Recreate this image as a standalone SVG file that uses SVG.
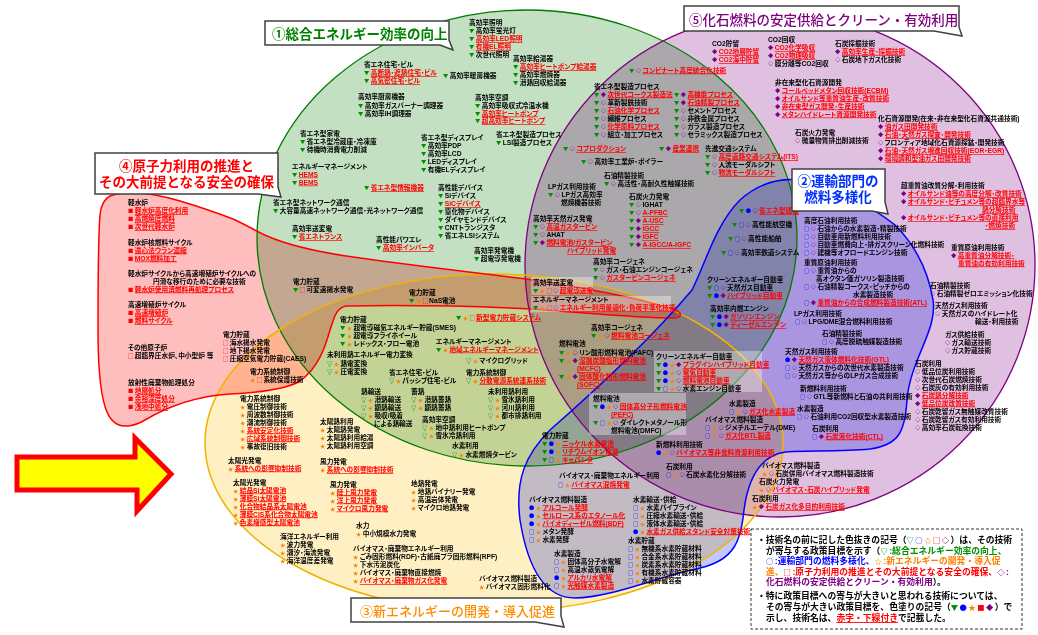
<svg xmlns="http://www.w3.org/2000/svg" width="1038" height="635" viewBox="0 0 1038 635">
<style>
text{font-family:"Liberation Sans","Noto Sans CJK JP",sans-serif;font-size:6.7px;font-weight:700;fill:#000;font-feature-settings:"palt"}
.g,.b,.o,.r,.p{font-family:"Noto Sans CJK JP",sans-serif;font-size:5.3px;letter-spacing:1.4px}
.g{fill:#009000}.b{fill:#0000ff}.o{fill:#ff8000}.r{fill:#ff0000}.p{fill:#800080}
.u{fill:#ff0000;text-decoration:underline}
.f{mix-blend-mode:multiply}
.box{fill:#fff;stroke:#404040;stroke-width:1.5}
.ttl{font-size:13.5px;font-feature-settings:normal}
.lg{font-size:8.8px;font-feature-settings:normal}
.lg .g,.lg .b,.lg .o,.lg .r,.lg .p{font-family:"Liberation Sans","Noto Sans CJK JP",sans-serif;font-size:8.8px;letter-spacing:0}
.lg .ls{font-family:"Noto Sans CJK JP",sans-serif;font-size:7.3px;letter-spacing:1.5px}
.wb{fill:#fff;fill-opacity:.35}
</style>
<rect width="1038" height="635" fill="#fff"/>
<g id="areas">
<ellipse class="f" cx="780" cy="265" rx="255" ry="252" fill="#e0c0e0"/>
<ellipse class="f" cx="527" cy="238" rx="270" ry="228" fill="#c3e0c3"/>
<ellipse class="f" cx="494" cy="443" rx="289" ry="169" fill="#fff0c3"/>
<path class="f" fill="#ffbebe" d="M110,196 C125,190 150,192 180,201 C200,207 220,214 233,219 C248,226 258,232 267,236 C290,246 320,252 346,256 C400,264 470,272 526,279 C600,290 650,302 673,309 C684,313 682,318 673,318 C640,318 600,314 533,309 C470,306 400,305 346,306 C336,308 334,318 330,330 C325,348 318,368 300,381 C285,390 250,393 230,394 C200,396 170,405 145,420 C135,426 120,430 112,420 C102,410 98,380 98,330 C98,280 98,240 100,215 C101,205 104,199 110,196 Z"/>
<path class="f" fill="#c2c7ff" d="M692,290 C705,265 715,225 740,200 C760,182 780,178 800,180 C830,185 870,205 895,225 C915,245 928,270 933,300 C938,330 910,360 907,400 C905,430 900,445 870,449 C840,452 800,450 785,452 C760,456 748,480 744,510 C741,540 735,560 700,568 C660,576 610,598 575,598 C545,598 528,570 520,520 C515,480 525,455 550,430 C590,395 650,340 692,290 Z"/>
</g>
<g id="outlines" fill="none">
<ellipse cx="780" cy="265" rx="255" ry="252" stroke="#800080" stroke-width="1.3"/>
<ellipse cx="527" cy="238" rx="270" ry="228" stroke="#007a00" stroke-width="1.3"/>
<ellipse cx="494" cy="443" rx="289" ry="169" stroke="#f0b400" stroke-width="1.5"/>
<path stroke="#ff0000" stroke-width="1.5" d="M110,196 C125,190 150,192 180,201 C200,207 220,214 233,219 C248,226 258,232 267,236 C290,246 320,252 346,256 C400,264 470,272 526,279 C600,290 650,302 673,309 C684,313 682,318 673,318 C640,318 600,314 533,309 C470,306 400,305 346,306 C336,308 334,318 330,330 C325,348 318,368 300,381 C285,390 250,393 230,394 C200,396 170,405 145,420 C135,426 120,430 112,420 C102,410 98,380 98,330 C98,280 98,240 100,215 C101,205 104,199 110,196 Z"/>
<path stroke="#0000ff" stroke-width="1.5" d="M692,290 C705,265 715,225 740,200 C760,182 780,178 800,180 C830,185 870,205 895,225 C915,245 928,270 933,300 C938,330 910,360 907,400 C905,430 900,445 870,449 C840,452 800,450 785,452 C760,456 748,480 744,510 C741,540 735,560 700,568 C660,576 610,598 575,598 C545,598 528,570 520,520 C515,480 525,455 550,430 C590,395 650,340 692,290 Z"/>
</g>
<g id="textboxes">
<rect class="wb" x="531" y="277" width="62" height="18"/>
<rect class="wb" x="531" y="296" width="140" height="16"/>
<rect class="wb" x="654" y="351" width="108" height="41"/>
<rect class="wb" x="589" y="393" width="97" height="42"/>
</g>
<g id="t-green">
<text id="n-light"><tspan x="469" y="25">高効率照明</tspan><tspan x="469" y="33"><tspan class="g">▼</tspan>高効率蛍光灯</tspan><tspan x="469" y="41"><tspan class="g">▼</tspan><tspan class="u">高効率LED照明</tspan></tspan><tspan x="469" y="49"><tspan class="g">▼</tspan><tspan class="u">有機EL照明</tspan></tspan><tspan x="469" y="56.5"><tspan class="g">▼</tspan>次世代照明</tspan></text>
<text id="n-water"><tspan x="513" y="61">高効率給湯器</tspan><tspan x="513" y="69"><tspan class="g">▼</tspan><tspan class="u">高効率ヒートポンプ給湯器</tspan></tspan><tspan x="513" y="77"><tspan class="g">▼</tspan>高効率燃焼器</tspan><tspan x="513" y="85"><tspan class="g">▼</tspan>潜熱回収給湯器</tspan></text>
<text id="n-house"><tspan x="364" y="67">省エネ住宅・ビル</tspan><tspan x="364" y="75"><tspan class="g">▼</tspan><tspan class="u">高断熱・遮熱住宅・ビル</tspan></tspan><tspan x="364" y="83"><tspan class="g">▼</tspan><tspan class="u">高気密住宅・ビル</tspan></tspan></text>
<text id="n-heat"><tspan x="443" y="78"><tspan class="g">▼</tspan>高効率暖房機器</tspan></text>
<text id="n-kitchen"><tspan x="358" y="99">高効率厨房機器</tspan><tspan x="358" y="107.5"><tspan class="g">▼</tspan>高効率ガスバーナー調理器</tspan><tspan x="358" y="115.5"><tspan class="g">▼</tspan>高効率IH調理器</tspan></text>
<text id="n-aircon"><tspan x="475" y="100">高効率空調</tspan><tspan x="475" y="108"><tspan class="g">▼</tspan>高効率吸収式冷温水機</tspan><tspan x="475" y="115.5"><tspan class="g">▼</tspan><tspan class="u">高効率ヒートポンプ</tspan></tspan><tspan x="475" y="123"><tspan class="g">▼</tspan><tspan class="u">超高効率ヒートポンプ</tspan></tspan></text>
<text id="n-appl"><tspan x="300" y="136">省エネ型家電</tspan><tspan x="300" y="144"><tspan class="g">▼</tspan>省エネ型冷蔵庫・冷凍庫</tspan><tspan x="300" y="152"><tspan class="g">▼</tspan>待機時消費電力削減</tspan></text>
<text id="n-disp"><tspan x="421" y="140">省エネ型ディスプレイ</tspan><tspan x="421" y="148"><tspan class="g">▼</tspan>高効率PDP</tspan><tspan x="421" y="156"><tspan class="g">▼</tspan>高効率LCD</tspan><tspan x="421" y="164"><tspan class="g">▼</tspan>LEDディスプレイ</tspan><tspan x="421" y="172"><tspan class="g">▼</tspan>有機ELディスプレイ</tspan></text>
<text id="n-lsi"><tspan x="496" y="136.5">省エネ型製造プロセス</tspan><tspan x="496" y="144.5"><tspan class="g">▼</tspan>LSI製造プロセス</tspan></text>
<text id="n-ems"><tspan x="292" y="168.5">エネルギーマネージメント</tspan><tspan x="292" y="176.5"><tspan class="g">▼</tspan><tspan class="u">HEMS</tspan></tspan><tspan x="292" y="184.5"><tspan class="g">▼</tspan><tspan class="u">BEMS</tspan></tspan></text>
<text id="n-it"><tspan x="364" y="190"><tspan class="g">▼</tspan><tspan class="u">省エネ型情報機器</tspan></tspan></text>
<text id="n-net"><tspan x="273" y="205">省エネ型ネットワーク通信</tspan><tspan x="273" y="213"><tspan class="g">▼</tspan>大容量高速ネットワーク通信・光ネットワーク通信</tspan></text>
<text id="n-trans"><tspan x="292" y="231">高効率送変電</tspan><tspan x="292" y="239"><tspan class="g">▼</tspan><tspan class="u">省エネトランス</tspan></tspan></text>
<text id="n-dev"><tspan x="438" y="190">高性能デバイス</tspan><tspan x="438" y="198"><tspan class="g">▼</tspan>Siデバイス</tspan><tspan x="438" y="206"><tspan class="g">▼</tspan><tspan class="u">SiCデバイス</tspan></tspan><tspan x="438" y="214"><tspan class="g">▼</tspan>窒化物デバイス</tspan><tspan x="438" y="222"><tspan class="g">▼</tspan>ダイヤモンドデバイス</tspan><tspan x="438" y="230"><tspan class="g">▼</tspan>CNTトランジスタ</tspan><tspan x="438" y="238"><tspan class="g">▼</tspan>省エネLSIシステム</tspan></text>
<text id="n-pe"><tspan x="376" y="242">高性能パワエレ</tspan><tspan x="376" y="250"><tspan class="g">▼</tspan><tspan class="u">高効率インバータ</tspan></tspan></text>
<text id="n-gen"><tspan x="474" y="253">高効率発電機</tspan><tspan x="474" y="261"><tspan class="g">▼</tspan>超電導発電機</tspan></text>
</g>
<g id="t-grey">
<text id="n-kombi"><tspan x="629" y="72.5"><tspan class="g">▼</tspan><tspan class="p">◇</tspan><tspan class="u">コンビナート高度統合化技術</tspan></tspan></text>
<text id="n-proc1"><tspan x="594" y="88.5">省エネ型製造プロセス</tspan><tspan x="594" y="96.5"><tspan class="g">▼</tspan><tspan class="p">◆</tspan><tspan class="u">次世代コークス製造法</tspan></tspan><tspan x="594" y="104.5"><tspan class="g">▼</tspan><tspan class="p">◇</tspan>革新製銑技術</tspan><tspan x="594" y="112.5"><tspan class="g">▼</tspan><tspan class="p">◇</tspan><tspan class="u">石油化学プロセス</tspan></tspan><tspan x="594" y="120.5"><tspan class="g">▼</tspan><tspan class="p">◇</tspan>繊維プロセス</tspan><tspan x="594" y="128.5"><tspan class="g">▼</tspan><tspan class="p">◇</tspan><tspan class="u">化学原料プロセス</tspan></tspan><tspan x="594" y="136.5"><tspan class="g">▼</tspan><tspan class="p">◇</tspan>組立・加工プロセス</tspan></text>
<text id="n-proc2"><tspan x="674" y="96.5"><tspan class="g">▼</tspan><tspan class="p">◆</tspan><tspan class="u">高機能プロセス</tspan></tspan><tspan x="674" y="104.5"><tspan class="g">▼</tspan><tspan class="p">◆</tspan><tspan class="u">石油精製プロセス</tspan></tspan><tspan x="674" y="112.5"><tspan class="g">▼</tspan><tspan class="p">◇</tspan>セメントプロセス</tspan><tspan x="674" y="120.5"><tspan class="g">▼</tspan><tspan class="p">◇</tspan>非鉄金属プロセス</tspan><tspan x="674" y="128.5"><tspan class="g">▼</tspan><tspan class="p">◇</tspan>ガラス製造プロセス</tspan><tspan x="674" y="136.5"><tspan class="g">▼</tspan><tspan class="p">◇</tspan>セラミックス製造プロセス</tspan></text>
<text id="n-copro"><tspan x="563" y="151"><tspan class="g">▼</tspan><tspan class="p">◇</tspan><tspan class="u">コプロダクション</tspan></tspan></text>
<text id="n-renkei"><tspan x="659" y="151"><tspan class="g">▼</tspan><tspan class="p">◆</tspan><tspan class="u">産業連携</tspan></tspan></text>
<text id="n-its"><tspan x="705" y="151">先進交通システム</tspan><tspan x="705" y="159"><tspan class="g">▼</tspan><tspan class="p">◇</tspan><tspan class="u">高度道路交通システム(ITS)</tspan></tspan><tspan x="705" y="167"><tspan class="g">▼</tspan><tspan class="p">◇</tspan>人流モーダルシフト</tspan><tspan x="705" y="175"><tspan class="g">▼</tspan><tspan class="p">◇</tspan><tspan class="u">物流モーダルシフト</tspan></tspan></text>
<text id="n-boiler"><tspan x="581" y="164"><tspan class="g">▼</tspan><tspan class="p">◇</tspan>高効率工業炉・ボイラー</tspan></text>
<text id="n-refine1"><tspan x="604" y="178">石油精製技術</tspan><tspan x="604" y="186"><tspan class="g">▼</tspan><tspan class="p">◇</tspan>高活性・高耐久性触媒技術</tspan></text>
<text id="n-lpg1"><tspan x="548" y="189">LPガス利用技術</tspan><tspan x="548" y="197"><tspan class="g">▼</tspan><tspan class="p">◇</tspan>LPガス高効率</tspan><tspan x="561" y="205">燃焼機器技術</tspan></text>
<text id="n-coalpow"><tspan x="629" y="199">石炭火力発電</tspan><tspan x="629" y="207"><tspan class="g">▼</tspan><tspan class="p">◇</tspan>IGHAT</tspan><tspan x="629" y="215"><tspan class="g">▼</tspan><tspan class="p">◇</tspan><tspan class="u">A-PFBC</tspan></tspan><tspan x="629" y="223"><tspan class="g">▼</tspan><tspan class="p">◆</tspan><tspan class="u">A-USC</tspan></tspan><tspan x="629" y="231"><tspan class="g">▼</tspan><tspan class="p">◆</tspan><tspan class="u">IGCC</tspan></tspan><tspan x="629" y="239"><tspan class="g">▼</tspan><tspan class="p">◆</tspan><tspan class="u">IGFC</tspan></tspan><tspan x="629" y="247"><tspan class="g">▼</tspan><tspan class="p">◆</tspan><tspan class="u">A-IGCC/A-IGFC</tspan></tspan></text>
<text id="n-lng"><tspan x="533" y="221">高効率天然ガス発電</tspan><tspan x="533" y="229"><tspan class="g">▼</tspan><tspan class="p">◇</tspan><tspan class="u">高温ガスタービン</tspan></tspan><tspan x="533" y="237"><tspan class="g">▼</tspan><tspan class="p">◇</tspan>AHAT</tspan><tspan x="533" y="245"><tspan class="g">▼</tspan><tspan class="p">◆</tspan><tspan class="u">燃料電池/ガスタービン</tspan></tspan><tspan x="567" y="253"><tspan class="u">ハイブリッド発電</tspan></tspan></text>
<text id="n-cogen1"><tspan x="593" y="264">高効率コージェネ</tspan><tspan x="593" y="272"><tspan class="g">▼</tspan><tspan class="p">◇</tspan>ガス・石油エンジンコージェネ</tspan><tspan x="593" y="280"><tspan class="g">▼</tspan><tspan class="p">◇</tspan><tspan class="u">ガスタービンコージェネ</tspan></tspan></text>
<text id="n-transm"><tspan x="533" y="284.5">高効率送変電</tspan><tspan x="533" y="292.5"><tspan class="g">▼</tspan><tspan class="o">★</tspan><tspan class="r">□</tspan><tspan class="p">◇</tspan><tspan class="u">超電導送電</tspan></tspan></text>
<text id="n-ems2"><tspan x="533" y="302">エネルギーマネージメント</tspan><tspan x="533" y="310"><tspan class="g">▼</tspan><tspan class="o">★</tspan><tspan class="r">□</tspan><tspan class="p">◇</tspan><tspan class="u">エネルギー利用最適化・負荷平準化技術</tspan></tspan></text>
<text id="n-nas"><tspan x="409" y="295">電力貯蔵</tspan><tspan x="409" y="303"><tspan class="g">▼</tspan><tspan class="o">★</tspan><tspan class="r">□</tspan>NaS電池</tspan></text>
<text id="n-pump"><tspan x="293" y="284">電力貯蔵</tspan><tspan x="293" y="292"><tspan class="g">▼</tspan><tspan class="r">□</tspan>可変速揚水発電</tspan></text>
<text id="n-storsys"><tspan x="456" y="320"><tspan class="g">▼</tspan><tspan class="o">★</tspan><tspan class="r">□</tspan><tspan class="u">新型電力貯蔵システム</tspan></tspan></text>
</g>
<g id="t-green-yellow">
<text id="n-smes"><tspan x="340" y="322">電力貯蔵</tspan><tspan x="340" y="330"><tspan class="g">▼</tspan><tspan class="o">★</tspan>超電導磁気エネルギー貯蔵(SMES)</tspan><tspan x="340" y="338"><tspan class="g">▼</tspan><tspan class="o">★</tspan>超電導フライホイール</tspan><tspan x="340" y="346"><tspan class="g">▼</tspan><tspan class="o">★</tspan>レドックス・フロー電池</tspan></text>
<text id="n-conv"><tspan x="327" y="357">未利用熱エネルギー電力変換</tspan><tspan x="327" y="365.5"><tspan class="g">▽</tspan><tspan class="o">★</tspan>熱電変換</tspan><tspan x="327" y="374"><tspan class="g">▽</tspan><tspan class="o">★</tspan>圧電変換</tspan></text>
<text id="n-ems3"><tspan x="436" y="343.5">エネルギーマネージメント</tspan><tspan x="436" y="351.5"><tspan class="g">▼</tspan><tspan class="o">★</tspan><tspan class="u">地域エネルギーマネージメント</tspan></tspan></text>
<text id="n-micro"><tspan x="466" y="363"><tspan class="g">▽</tspan><tspan class="o">★</tspan>マイクログリッド</tspan></text>
<text id="n-grid1"><tspan x="466" y="375">電力系統制御</tspan><tspan x="466" y="383"><tspan class="g">▽</tspan><tspan class="o">★</tspan><tspan class="u">分散電源系統連系技術</tspan></tspan></text>
<text id="n-passive"><tspan x="389" y="375">省エネ住宅・ビル</tspan><tspan x="389" y="383"><tspan class="g">▽</tspan><tspan class="o">★</tspan>パッシブ住宅・ビル</tspan></text>
<text id="n-heattr"><tspan x="361" y="394">熱輸送</tspan><tspan x="361" y="402"><tspan class="g">▽</tspan><tspan class="o">★</tspan>潜熱輸送</tspan><tspan x="361" y="410"><tspan class="g">▽</tspan><tspan class="o">★</tspan>顕熱輸送</tspan><tspan x="361" y="418"><tspan class="g">▽</tspan><tspan class="o">★</tspan>吸収/吸着</tspan><tspan x="374" y="426">による熱輸送</tspan></text>
<text id="n-heatst"><tspan x="411" y="394">蓄熱</tspan><tspan x="411" y="402"><tspan class="g">▽</tspan><tspan class="o">★</tspan>潜熱蓄熱</tspan><tspan x="411" y="410"><tspan class="g">▽</tspan><tspan class="o">★</tspan>顕熱蓄熱</tspan></text>
<text id="n-unused"><tspan x="488" y="394">未利用熱利用</tspan><tspan x="488" y="402"><tspan class="g">▽</tspan><tspan class="o">★</tspan>雪氷熱利用</tspan><tspan x="488" y="410"><tspan class="g">▽</tspan><tspan class="o">★</tspan>河川熱利用</tspan><tspan x="488" y="418"><tspan class="g">▽</tspan><tspan class="o">★</tspan>都市排熱利用</tspan></text>
<text id="n-aircon2"><tspan x="422" y="421.5">高効率空調</tspan><tspan x="422" y="429.5"><tspan class="g">▽</tspan><tspan class="o">★</tspan>地中熱利用ヒートポンプ</tspan><tspan x="422" y="437.5"><tspan class="g">▽</tspan><tspan class="o">★</tspan>雪氷冷熱利用</tspan></text>
<text id="n-h2use"><tspan x="452" y="448">水素利用</tspan><tspan x="452" y="456.5"><tspan class="g">▽</tspan><tspan class="o">★</tspan>水素燃焼タービン</tspan></text>
</g>
<g id="t-red">
<text id="n-lwr"><tspan x="128" y="205">軽水炉</tspan><tspan x="128" y="213"><tspan class="r">■</tspan><tspan class="u">軽水炉高度化利用</tspan></tspan><tspan x="128" y="221"><tspan class="r">■</tspan><tspan class="u">高燃焼度燃料</tspan></tspan><tspan x="128" y="229"><tspan class="r">■</tspan><tspan class="u">次世代軽水炉</tspan></tspan></text>
<text id="n-cycle"><tspan x="128" y="244.5">軽水炉核燃料サイクル</tspan><tspan x="128" y="252.5"><tspan class="r">■</tspan><tspan class="u">遠心法ウラン濃縮</tspan></tspan><tspan x="128" y="260.5"><tspan class="r">■</tspan><tspan class="u">MOX燃料加工</tspan></tspan></text>
<text id="n-shift"><tspan x="128" y="275.5">軽水炉サイクルから高速増殖炉サイクルへの</tspan><tspan x="153" y="283.5">円滑な移行のために必要な技術</tspan><tspan x="128" y="291.5"><tspan class="r">■</tspan><tspan class="u">軽水炉使用済燃料再処理プロセス</tspan></tspan></text>
<text id="n-fbr"><tspan x="128" y="307">高速増殖炉サイクル</tspan><tspan x="128" y="315"><tspan class="r">■</tspan><tspan class="u">高速増殖炉</tspan></tspan><tspan x="128" y="323"><tspan class="r">■</tspan><tspan class="u">燃料サイクル</tspan></tspan></text>
<text id="n-other"><tspan x="128" y="350">その他原子炉</tspan><tspan x="128" y="358"><tspan class="r">□</tspan>超臨界圧水炉、中小型炉 等</tspan></text>
<text id="n-waste"><tspan x="128" y="385">放射性廃棄物処理処分</tspan><tspan x="128" y="393"><tspan class="r">■</tspan><tspan class="u">地層処分</tspan></tspan><tspan x="128" y="401"><tspan class="r">■</tspan><tspan class="u">余裕深度処分</tspan></tspan><tspan x="128" y="409"><tspan class="r">■</tspan><tspan class="u">浅地中処分</tspan></tspan></text>
<text id="n-stor-r"><tspan x="223" y="337">電力貯蔵</tspan><tspan x="223" y="345"><tspan class="r">□</tspan>海水揚水発電</tspan><tspan x="223" y="353"><tspan class="r">□</tspan>地下揚水発電</tspan><tspan x="223" y="361"><tspan class="r">□</tspan>圧縮空気電力貯蔵(CAES)</tspan></text>
<text id="n-prot"><tspan x="250" y="374">電力系統制御</tspan><tspan x="250" y="382"><tspan class="o">★</tspan><tspan class="r">□</tspan>系統保護技術</tspan></text>
</g>
<g id="t-yellow">
<text id="n-grid2"><tspan x="240" y="400.5">電力系統制御</tspan><tspan x="240" y="408.5"><tspan class="o">★</tspan>電圧制御技術</tspan><tspan x="240" y="416.5"><tspan class="o">★</tspan>周波数制御技術</tspan><tspan x="240" y="424.5"><tspan class="o">★</tspan>潮流制御技術</tspan><tspan x="240" y="432.5"><tspan class="o">★</tspan><tspan class="u">系統安定化技術</tspan></tspan><tspan x="240" y="440.5"><tspan class="o">★</tspan><tspan class="u">広域系統制御技術</tspan></tspan><tspan x="240" y="448.5"><tspan class="o">★</tspan>事故復旧技術</tspan></text>
<text id="n-pvgrid"><tspan x="228" y="462.5">太陽光発電</tspan><tspan x="228" y="470.5"><tspan class="o">★</tspan><tspan class="u">系統への影響抑制技術</tspan></tspan></text>
<text id="n-solarth"><tspan x="320" y="424">太陽熱利用</tspan><tspan x="320" y="432"><tspan class="o">★</tspan>太陽熱発電</tspan><tspan x="320" y="440"><tspan class="o">★</tspan>太陽熱利用給湯</tspan><tspan x="320" y="448"><tspan class="o">★</tspan>太陽熱利用空調</tspan></text>
<text id="n-windgrid"><tspan x="320" y="464">風力発電</tspan><tspan x="320" y="472"><tspan class="o">★</tspan><tspan class="u">系統への影響抑制技術</tspan></tspan></text>
<text id="n-wind"><tspan x="330" y="486.5">風力発電</tspan><tspan x="330" y="494.5"><tspan class="o">★</tspan><tspan class="u">陸上風力発電</tspan></tspan><tspan x="330" y="502.5"><tspan class="o">★</tspan><tspan class="u">洋上風力発電</tspan></tspan><tspan x="330" y="510.5"><tspan class="o">★</tspan><tspan class="u">マイクロ風力発電</tspan></tspan></text>
<text id="n-pv"><tspan x="233" y="484.5">太陽光発電</tspan><tspan x="233" y="492.5"><tspan class="o">★</tspan><tspan class="u">結晶Si太陽電池</tspan></tspan><tspan x="233" y="500.5"><tspan class="o">★</tspan><tspan class="u">薄膜Si太陽電池</tspan></tspan><tspan x="233" y="508.5"><tspan class="o">★</tspan><tspan class="u">化合物結晶系太陽電池</tspan></tspan><tspan x="233" y="516.5"><tspan class="o">★</tspan><tspan class="u">薄膜CIS系化合物太陽電池</tspan></tspan><tspan x="233" y="524.5"><tspan class="o">★</tspan><tspan class="u">色素増感型太陽電池</tspan></tspan></text>
<text id="n-ocean"><tspan x="280" y="538.5">海洋エネルギー利用</tspan><tspan x="280" y="546.5"><tspan class="o">★</tspan>波力発電</tspan><tspan x="280" y="554.5"><tspan class="o">★</tspan>潮汐・海流発電</tspan><tspan x="280" y="562.5"><tspan class="o">★</tspan>海洋温度差発電</tspan></text>
<text id="n-geo"><tspan x="411" y="485.5">地熱発電</tspan><tspan x="411" y="493.5"><tspan class="o">★</tspan>地熱バイナリー発電</tspan><tspan x="411" y="501.5"><tspan class="o">★</tspan>高温岩体発電</tspan><tspan x="411" y="509.5"><tspan class="o">★</tspan>マイクロ地熱発電</tspan></text>
<text id="n-hydro"><tspan x="356" y="528">水力</tspan><tspan x="356" y="536"><tspan class="o">★</tspan>中小規模水力発電</tspan></text>
<text id="n-bio1"><tspan x="353" y="551">バイオマス・廃棄物エネルギー利用</tspan><tspan x="353" y="559"><tspan class="o">★</tspan>ごみ固形燃料(RDF)・古紙廃プラ固形燃料(RPF)</tspan><tspan x="353" y="567"><tspan class="o">★</tspan>下水汚泥炭化</tspan><tspan x="353" y="575"><tspan class="o">★</tspan>バイオマス・廃棄物直接燃焼</tspan><tspan x="353" y="583"><tspan class="o">★</tspan><tspan class="u">バイオマス・廃棄物ガス化発電</tspan></tspan></text>
<text id="n-bio2"><tspan x="479" y="580.5">バイオマス燃料製造</tspan><tspan x="479" y="589"><tspan class="o">★</tspan>バイオマス固形燃料化</tspan></text>
</g>
<g id="t-blue-low">
<text id="n-bio3"><tspan x="559" y="478">バイオマス・廃棄物エネルギー利用</tspan><tspan x="558" y="487"><tspan class="b">○</tspan><tspan class="o">★</tspan><tspan class="u">バイオマス混焼発電</tspan></tspan></text>
<text id="n-biofuel"><tspan x="529" y="501.5">バイオマス燃料製造</tspan><tspan x="529" y="509.5"><tspan class="b">●</tspan><tspan class="o">★</tspan><tspan class="u">アルコール発酵</tspan></tspan><tspan x="529" y="517.5"><tspan class="b">●</tspan><tspan class="o">★</tspan><tspan class="u">セルロース系のエタノール化</tspan></tspan><tspan x="529" y="525.5"><tspan class="b">●</tspan><tspan class="o">★</tspan><tspan class="u">バイオディーゼル燃料(BDF)</tspan></tspan><tspan x="529" y="533.5"><tspan class="b">○</tspan><tspan class="o">★</tspan>メタン発酵</tspan><tspan x="529" y="541.5"><tspan class="b">○</tspan><tspan class="o">★</tspan>水素発酵</tspan></text>
<text id="n-h2sup"><tspan x="633" y="501.5">水素輸送・供給</tspan><tspan x="633" y="509.5"><tspan class="b">○</tspan><tspan class="o">★</tspan>水素パイプライン</tspan><tspan x="633" y="517.5"><tspan class="b">○</tspan><tspan class="o">★</tspan>圧縮水素輸送・供給</tspan><tspan x="633" y="525.5"><tspan class="b">○</tspan><tspan class="o">★</tspan>液体水素輸送・供給</tspan><tspan x="633" y="533.5"><tspan class="b">●</tspan><tspan class="o">★</tspan><tspan class="u">水素ガス供給スタンド安全対策技術</tspan></tspan></text>
<text id="n-h2prod"><tspan x="554" y="556">水素製造</tspan><tspan x="554" y="564"><tspan class="b">○</tspan><tspan class="o">★</tspan>固体高分子水電解</tspan><tspan x="554" y="572"><tspan class="b">○</tspan><tspan class="o">★</tspan>高温水蒸気電解</tspan><tspan x="554" y="580"><tspan class="b">●</tspan><tspan class="o">★</tspan><tspan class="u">アルカリ水電解</tspan></tspan><tspan x="554" y="588"><tspan class="b">○</tspan><tspan class="o">★</tspan><tspan class="u">光触媒水素製造</tspan></tspan></text>
<text id="n-h2stor"><tspan x="628" y="543">水素貯蔵</tspan><tspan x="628" y="551"><tspan class="b">○</tspan><tspan class="o">★</tspan>無機系水素貯蔵材料</tspan><tspan x="628" y="559"><tspan class="b">○</tspan><tspan class="o">★</tspan>合金系水素貯蔵材料</tspan><tspan x="628" y="567"><tspan class="b">○</tspan><tspan class="o">★</tspan>炭素系水素貯蔵材料</tspan><tspan x="628" y="575"><tspan class="b">○</tspan><tspan class="o">★</tspan>有機系水素貯蔵材料</tspan><tspan x="628" y="583"><tspan class="b">○</tspan><tspan class="o">★</tspan>水素貯蔵容器</tspan></text>
</g>
<g id="t-blue">
<text id="n-kenki"><tspan x="739" y="213"><tspan class="g">▼</tspan><tspan class="b">●</tspan><tspan class="p">◇</tspan><tspan class="u">省エネ型建機</tspan></tspan></text>
<text id="n-air"><tspan x="732" y="227"><tspan class="g">▼</tspan><tspan class="b">○</tspan><tspan class="p">◇</tspan>高性能航空機</tspan></text>
<text id="n-ship"><tspan x="728" y="241"><tspan class="g">▼</tspan><tspan class="b">○</tspan><tspan class="p">◇</tspan>高性能船舶</tspan></text>
<text id="n-rail"><tspan x="721" y="254.5"><tspan class="g">▼</tspan><tspan class="b">○</tspan><tspan class="p">◇</tspan>高効率鉄道システム</tspan></text>
<text id="n-cev1"><tspan x="707" y="281.5">クリーンエネルギー自動車</tspan><tspan x="707" y="289.5"><tspan class="g">▼</tspan><tspan class="b">○</tspan><tspan class="p">◇</tspan>天然ガス自動車</tspan><tspan x="707" y="297.5"><tspan class="g">▼</tspan><tspan class="b">●</tspan><tspan class="p">◆</tspan><tspan class="u">ハイブリッド自動車</tspan></tspan></text>
<text id="n-ice"><tspan x="710" y="311">高効率内燃エンジン</tspan><tspan x="710" y="319"><tspan class="g">▼</tspan><tspan class="b">●</tspan><tspan class="p">◆</tspan><tspan class="u">ガソリンエンジン</tspan></tspan><tspan x="710" y="327"><tspan class="g">▼</tspan><tspan class="b">●</tspan><tspan class="p">◆</tspan><tspan class="u">ディーゼルエンジン</tspan></tspan></text>
<text id="n-cev2"><tspan x="656" y="359">クリーンエネルギー自動車</tspan><tspan x="656" y="367"><tspan class="g">▼</tspan><tspan class="b">●</tspan><tspan class="o">★</tspan><tspan class="p">◆</tspan><tspan class="u">プラグインハイブリッド自動車</tspan></tspan><tspan x="656" y="375"><tspan class="g">▼</tspan><tspan class="b">●</tspan><tspan class="o">★</tspan><tspan class="p">◇</tspan><tspan class="u">電気自動車</tspan></tspan><tspan x="656" y="383"><tspan class="g">▼</tspan><tspan class="b">●</tspan><tspan class="o">★</tspan><tspan class="p">◇</tspan><tspan class="u">燃料電池自動車</tspan></tspan><tspan x="656" y="391"><tspan class="g">▼</tspan><tspan class="b">○</tspan><tspan class="o">★</tspan><tspan class="p">◇</tspan>水素エンジン自動車</tspan></text>
<text id="n-fc1"><tspan x="559" y="346">燃料電池</tspan><tspan x="559" y="354.5"><tspan class="g">▼</tspan><tspan class="o">★</tspan><tspan class="p">◇</tspan>リン酸形燃料電池(PAFC)</tspan><tspan x="559" y="363"><tspan class="g">▼</tspan><tspan class="o">★</tspan><tspan class="p">◆</tspan><tspan class="u">溶融炭酸塩形燃料電池</tspan></tspan><tspan x="577" y="371"><tspan class="u">(MCFC)</tspan></tspan><tspan x="559" y="379"><tspan class="g">▼</tspan><tspan class="o">★</tspan><tspan class="p">◆</tspan><tspan class="u">固体酸化物形燃料電池</tspan></tspan><tspan x="577" y="387"><tspan class="u">(SOFC)</tspan></tspan></text>
<text id="n-cogen2"><tspan x="591" y="330">高効率コージェネ</tspan><tspan x="591" y="338"><tspan class="g">▼</tspan><tspan class="o">★</tspan><tspan class="p">◇</tspan><tspan class="u">燃料電池コージェネ</tspan></tspan></text>
<text id="n-fc2"><tspan x="593" y="400.5">燃料電池</tspan><tspan x="593" y="408.5"><tspan class="g">▼</tspan><tspan class="b">●</tspan><tspan class="o">★</tspan><tspan class="p">◇</tspan><tspan class="u">固体高分子形燃料電池</tspan></tspan><tspan x="611" y="416.5"><tspan class="u">(PEFC)</tspan></tspan><tspan x="593" y="424.5"><tspan class="g">▼</tspan><tspan class="b">○</tspan><tspan class="o">★</tspan><tspan class="p">◇</tspan>ダイレクトメタノール形</tspan><tspan x="611" y="432.5">燃料電池(DMFC)</tspan></text>
<text id="n-batt"><tspan x="542" y="438">電力貯蔵</tspan><tspan x="542" y="446"><tspan class="g">▼</tspan><tspan class="b">●</tspan><tspan class="o">★</tspan><tspan class="u">ニッケル水素電池</tspan></tspan><tspan x="542" y="454"><tspan class="g">▼</tspan><tspan class="b">●</tspan><tspan class="o">★</tspan><tspan class="u">リチウムイオン電池</tspan></tspan><tspan x="542" y="462"><tspan class="g">▼</tspan><tspan class="b">○</tspan><tspan class="o">★</tspan><tspan class="u">キャパシタ</tspan></tspan></text>
<text id="n-newfuel1"><tspan x="656" y="447">新燃料利用技術</tspan><tspan x="656" y="455"><tspan class="b">●</tspan><tspan class="o">★</tspan><tspan class="p">◇</tspan><tspan class="u">バイオマス等非食料資源利用技術</tspan></tspan></text>
<text id="n-coal1"><tspan x="666" y="469">石炭利用</tspan><tspan x="666" y="477"><tspan class="b">○</tspan><tspan class="o">★</tspan><tspan class="p">◇</tspan>石炭水素化分解技術</tspan></text>
<text id="n-h2gas"><tspan x="729" y="406">水素製造</tspan><tspan x="729" y="414"><tspan class="b">○</tspan><tspan class="o">★</tspan><tspan class="p">◇</tspan><tspan class="u">ガス化水素製造</tspan></tspan></text>
<text id="n-dme"><tspan x="705" y="422">バイオマス燃料製造</tspan><tspan x="705" y="430"><tspan class="b">○</tspan><tspan class="o">★</tspan><tspan class="p">◇</tspan>ジメチルエーテル(DME)</tspan><tspan x="705" y="438"><tspan class="b">○</tspan><tspan class="o">★</tspan><tspan class="p">◇</tspan><tspan class="u">ガス化BTL製造</tspan></tspan></text>
<text id="n-oil"><tspan x="804" y="222.5">高度石油利用技術</tspan><tspan x="804" y="230.5"><tspan class="b">○</tspan><tspan class="p">◇</tspan>石油からの水素製造・精製技術</tspan><tspan x="804" y="238.5"><tspan class="b">○</tspan><tspan class="p">◇</tspan>自動車用新燃料利用技術</tspan><tspan x="804" y="246.5"><tspan class="b">○</tspan><tspan class="p">◇</tspan>自動車燃費向上・排ガスクリーン化燃料技術</tspan><tspan x="804" y="254.5"><tspan class="b">○</tspan><tspan class="p">◇</tspan>建機等オフロードエンジン技術</tspan></text>
<text id="n-heavy1"><tspan x="804" y="265">重質原油利用技術</tspan><tspan x="804" y="273"><tspan class="b">○</tspan><tspan class="p">◇</tspan>重質油からの</tspan><tspan x="816" y="281">高オクタン価ガソリン製造技術</tspan><tspan x="804" y="289"><tspan class="b">○</tspan><tspan class="p">◇</tspan>石油精製コークス・ピッチからの</tspan><tspan x="853" y="297">水素製造技術</tspan><tspan x="804" y="305"><tspan class="b">○</tspan><tspan class="p">◆</tspan><tspan class="u">重質油からの合成燃料製造技術(ATL)</tspan></tspan></text>
<text id="n-lpg2"><tspan x="794" y="315.5">LPガス利用技術</tspan><tspan x="795" y="323.5"><tspan class="b">○</tspan><tspan class="p">◇</tspan>LPG/DME混合燃料利用技術</tspan></text>
<text id="n-refine2"><tspan x="822" y="335.5">石油精製技術</tspan><tspan x="822" y="343.5"><tspan class="b">○</tspan><tspan class="p">◇</tspan>高度脱硫触媒製造技術</tspan></text>
<text id="n-gtl"><tspan x="785" y="354">天然ガス利用技術</tspan><tspan x="785" y="362"><tspan class="b">●</tspan><tspan class="p">◆</tspan><tspan class="u">天然ガス液体燃料化技術(GTL)</tspan></tspan><tspan x="785" y="370"><tspan class="b">○</tspan><tspan class="p">◇</tspan>天然ガスからの次世代水素製造技術</tspan><tspan x="785" y="378"><tspan class="b">○</tspan><tspan class="p">◇</tspan>天然ガス等からのLPガス合成技術</tspan></text>
<text id="n-newfuel2"><tspan x="800" y="390.5">新燃料利用技術</tspan><tspan x="800" y="398.5"><tspan class="b">○</tspan><tspan class="p">◇</tspan>GTL等新燃料と石油の共利用技術</tspan></text>
<text id="n-h2oil"><tspan x="797" y="410.5">水素製造</tspan><tspan x="797" y="418.5"><tspan class="b">○</tspan><tspan class="p">◇</tspan>石油利用CO2回収型水素製造技術</tspan></text>
<text id="n-ctl"><tspan x="812" y="430.5">石炭利用</tspan><tspan x="812" y="438.5"><tspan class="b">○</tspan><tspan class="p">◆</tspan><tspan class="u">石炭液化技術(CTL)</tspan></tspan></text>
</g>
<g id="t-purple">
<text id="n-ccs1"><tspan x="712" y="46">CO2貯留</tspan><tspan x="712" y="54"><tspan class="p">◆</tspan><tspan class="u">CO2地層貯留</tspan></tspan><tspan x="712" y="62"><tspan class="p">◆</tspan><tspan class="u">CO2海中貯留</tspan></tspan></text>
<text id="n-ccs2"><tspan x="768" y="42">CO2回収</tspan><tspan x="768" y="50"><tspan class="p">◆</tspan><tspan class="u">CO2化学吸収</tspan></tspan><tspan x="768" y="58"><tspan class="p">◆</tspan><tspan class="u">CO2物理吸収</tspan></tspan><tspan x="768" y="66"><tspan class="p">◇</tspan>膜分離等CO2回収</tspan></text>
<text id="n-mine"><tspan x="835" y="46">石炭採掘技術</tspan><tspan x="835" y="54"><tspan class="p">◆</tspan><tspan class="u">高効率生産・採掘技術</tspan></tspan><tspan x="835" y="62"><tspan class="p">◇</tspan>石炭地下ガス化技術</tspan></text>
<text id="n-unconv"><tspan x="775" y="84.5">非在来型化石資源開発</tspan><tspan x="775" y="92.5"><tspan class="p">◆</tspan><tspan class="u">コールベッドメタン回収技術(ECBM)</tspan></tspan><tspan x="775" y="100.5"><tspan class="p">◆</tspan><tspan class="u">オイルサンド等重質油生産・改質技術</tspan></tspan><tspan x="775" y="108.5"><tspan class="p">◆</tspan><tspan class="u">非在来型ガス開発・生産技術</tspan></tspan><tspan x="775" y="116.5"><tspan class="p">◆</tspan><tspan class="u">メタンハイドレート資源開発技術</tspan></tspan></text>
<text id="n-coalpow2"><tspan x="795" y="134.5">石炭火力発電</tspan><tspan x="795" y="142.5"><tspan class="p">◇</tspan>微量物質排出削減技術</tspan></text>
<text id="n-explore"><tspan x="878" y="121">化石資源開発(在来・非在来型化石資源共通技術)</tspan><tspan x="878" y="129"><tspan class="p">◆</tspan><tspan class="u">油ガス田開発技術</tspan></tspan><tspan x="878" y="137"><tspan class="p">◆</tspan><tspan class="u">石油・天然ガス探査・開発技術</tspan></tspan><tspan x="878" y="145"><tspan class="p">◇</tspan>フロンティア地域化石資源探鉱・開発技術</tspan><tspan x="878" y="153"><tspan class="p">◆</tspan><tspan class="u">石油・天然ガス増進回収技術(EOR・EGR)</tspan></tspan><tspan x="878" y="161"><tspan class="p">◆</tspan><tspan class="u">環境調和型油ガス田開発技術</tspan></tspan></text>
<text id="n-bitumen"><tspan x="901" y="188">超重質油改質分解・利用技術</tspan><tspan x="901" y="196"><tspan class="p">◆</tspan><tspan class="u">オイルサンド油等の高度分解・改質技術</tspan></tspan><tspan x="901" y="204"><tspan class="p">◆</tspan><tspan class="u">オイルサンド・ビチュメン等の超臨界水等</tspan></tspan><tspan x="982" y="212"><tspan class="u">熱分解技術</tspan></tspan><tspan x="901" y="220"><tspan class="p">◆</tspan><tspan class="u">オイルサンド・ビチュメン等の直接利用</tspan></tspan><tspan x="985" y="228"><tspan class="u">・燃焼技術</tspan></tspan></text>
<text id="n-heavy2"><tspan x="951" y="249.5">重質原油利用技術</tspan><tspan x="951" y="257.5"><tspan class="p">◆</tspan><tspan class="u">高重質油分解技術・</tspan></tspan><tspan x="958" y="265.5"><tspan class="u">重質油の有効利用技術</tspan></tspan></text>
<text id="n-refine3"><tspan x="930" y="288">石油精製技術</tspan><tspan x="930" y="296"><tspan class="p">◇</tspan>石油精製ゼロエミッション化技術</tspan></text>
<text id="n-ngh"><tspan x="935" y="308">天然ガス利用技術</tspan><tspan x="935" y="316"><tspan class="p">◇</tspan>天然ガスのハイドレート化</tspan><tspan x="975" y="324">輸送・利用技術</tspan></text>
<text id="n-gassup"><tspan x="945" y="337">ガス供給技術</tspan><tspan x="945" y="345"><tspan class="p">◇</tspan>ガス輸送技術</tspan><tspan x="945" y="353"><tspan class="p">◇</tspan>ガス貯蔵技術</tspan></text>
<text id="n-coal2"><tspan x="915" y="365.5">石炭利用</tspan><tspan x="915" y="373.5"><tspan class="p">◇</tspan>低品位炭利用技術</tspan><tspan x="915" y="381.5"><tspan class="p">◇</tspan>次世代石炭燃焼技術</tspan><tspan x="915" y="389.5"><tspan class="p">◇</tspan>石炭灰の有効利用技術</tspan><tspan x="915" y="397.5"><tspan class="p">◆</tspan><tspan class="u">石炭熱分解技術</tspan></tspan><tspan x="915" y="405.5"><tspan class="p">◆</tspan><tspan class="u">低品位炭改質技術</tspan></tspan><tspan x="915" y="413.5"><tspan class="p">◇</tspan>石炭乾留ガス無触媒改質技術</tspan><tspan x="915" y="421.5"><tspan class="p">◇</tspan>石炭乾留ガス有効利用技術</tspan><tspan x="915" y="429.5"><tspan class="p">◇</tspan>高効率石炭転換技術</tspan></text>
<text id="n-biocoal1"><tspan x="762" y="467.5">バイオマス燃料製造</tspan><tspan x="762" y="475.5"><tspan class="o">★</tspan><tspan class="p">◇</tspan>石炭併用バイオマス燃料製造技術</tspan></text>
<text id="n-biocoal2"><tspan x="759" y="484">石炭火力発電</tspan><tspan x="759" y="492"><tspan class="o">★</tspan><tspan class="p">◇</tspan><tspan class="u">バイオマス・石炭ハイブリッド発電</tspan></tspan></text>
<text id="n-coal3"><tspan x="752" y="501">石炭利用</tspan><tspan x="752" y="509"><tspan class="o">★</tspan><tspan class="p">◆</tspan><tspan class="u">石炭ガス化多目的利用技術</tspan></tspan></text>
</g>
<g id="title-1">
<path class="box" d="M265,21 H449 V40 L453,50 L440,45 H265 Z"/>
<text class="ttl" x="272" y="38.5" style="fill:#008000">①総合エネルギー効率の向上</text>
</g>
<g id="title-5">
<path class="box" d="M684,6 H959 V27 L962,36 L934,31 H684 Z"/>
<text class="ttl" x="689" y="25" style="fill:#800080;font-weight:500">⑤化石燃料の安定供給とクリーン・有効利用</text>
</g>
<g id="title-4">
<path class="box" d="M95,153 H278 V187 L281,197 L258,194 H95 Z"/>
<text class="ttl" text-anchor="middle" style="fill:#ff0000"><tspan x="186.5" y="171">④原子力利用の推進と</tspan><tspan x="186.5" y="187">その大前提となる安全の確保</tspan></text>
</g>
<g id="title-2">
<path class="box" d="M792,169 H885 V202 L888,214 L872,211 H792 Z"/>
<text class="ttl" text-anchor="middle" style="fill:#0030ff"><tspan x="838" y="185.5">②運輸部門の</tspan><tspan x="838" y="202">燃料多様化</tspan></text>
</g>
<g id="title-3">
<path class="box" d="M351,598 H561 V616 L564,627 L535,622 H351 Z"/>
<text class="ttl" x="360" y="616" style="fill:#ff8c00;font-weight:500;font-size:13px">③新エネルギーの開発・導入促進</text>
</g>
<g id="arrow">
<path d="M17,457 H135 V438 L171,474 L137,511 V490 H17 Z" fill="#ffff00" stroke="#ff0000" stroke-width="5"/>
</g>
<g id="legend">
<rect x="751" y="529" width="271" height="100" fill="#fff" stroke="#333" stroke-dasharray="3 2"/>
<text class="lg"><tspan x="757" y="543">・技術名の前に記した色抜きの記号（<tspan class="g ls">▽</tspan><tspan class="b ls">○</tspan><tspan class="o ls">☆</tspan><tspan class="r ls">□</tspan><tspan class="p ls">◇</tspan>）は、その技術</tspan><tspan x="766" y="553.5">が寄与する政策目標を示す（<tspan class="g ls">▽</tspan><tspan class="g">:総合エネルギー効率の向上、</tspan></tspan><tspan x="766" y="564"><tspan class="b ls">○</tspan><tspan class="b">:運輸部門の燃料多様化、</tspan><tspan class="o ls">☆</tspan><tspan class="o">:新エネルギーの開発・導入促</tspan></tspan><tspan x="766" y="574.5"><tspan class="o">進、</tspan><tspan class="r ls">□</tspan><tspan class="r">:原子力利用の推進とその大前提となる安全の確保、</tspan><tspan class="p ls">◇</tspan><tspan class="p">:</tspan></tspan><tspan x="766" y="585"><tspan class="p">化石燃料の安定供給とクリーン・有効利用</tspan>）。</tspan></text>
<text class="lg"><tspan x="757" y="599">・特に政策目標への寄与が大きいと思われる技術については、</tspan><tspan x="766" y="610">その寄与が大きい政策目標を、色塗りの記号（<tspan class="g ls">▼</tspan><tspan class="b ls">●</tspan><tspan class="o ls">★</tspan><tspan class="r ls">■</tspan><tspan class="p ls">◆</tspan>）で</tspan><tspan x="766" y="621">示し、技術名は、<tspan class="u">赤字・下線付き</tspan>で記載した。</tspan></text>
</g>
</svg>
